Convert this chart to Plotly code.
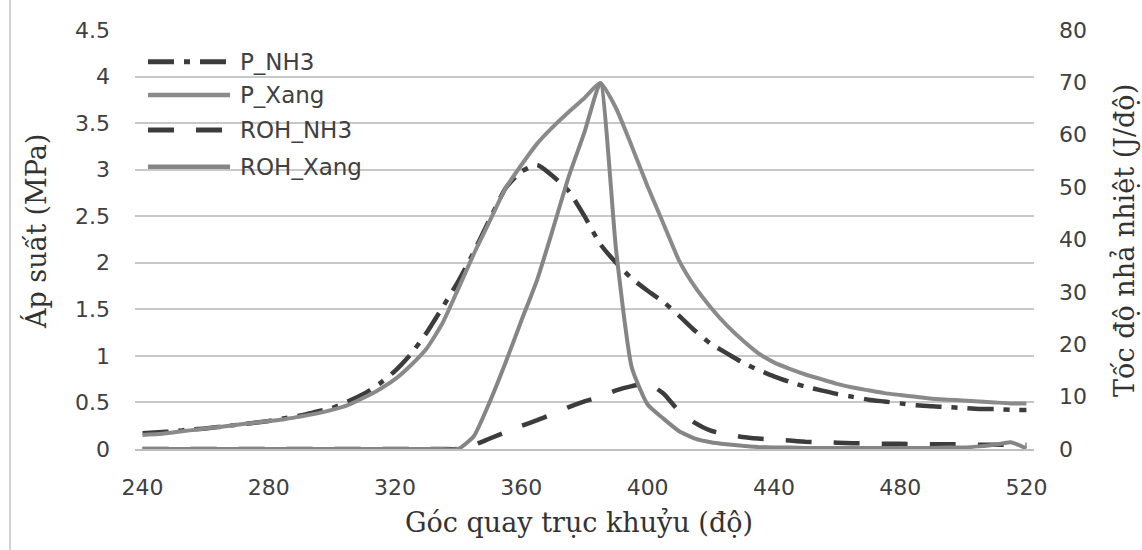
import plotly.graph_objects as go

# ---------------- data ----------------
angle = [240, 245, 250, 255, 260, 265, 270, 275, 280, 285,
         290, 295, 300, 305, 310, 315, 320, 325, 330, 335,
         340, 345, 350, 355, 360, 365, 370, 375, 380, 385,
         390, 395, 400, 405, 410, 415, 420, 425, 430, 435,
         440, 445, 450, 455, 460, 465, 470, 475, 480, 485,
         490, 495, 500, 505, 510, 515, 520]

p_nh3 = [0.17, 0.18, 0.19, 0.21, 0.22, 0.24, 0.26, 0.28, 0.30, 0.33,
         0.36, 0.40, 0.44, 0.51, 0.59, 0.70, 0.84, 1.02, 1.25, 1.52,
         1.80, 2.12, 2.47, 2.80, 2.98, 3.05, 2.93, 2.77, 2.50, 2.20,
         2.00, 1.83, 1.70, 1.58, 1.43, 1.27, 1.13, 1.03, 0.93, 0.85,
         0.78, 0.72, 0.67, 0.63, 0.59, 0.56, 0.53, 0.51, 0.49, 0.47,
         0.46, 0.45, 0.44, 0.43, 0.43, 0.42, 0.42]

p_xang = [0.15, 0.16, 0.18, 0.20, 0.22, 0.24, 0.26, 0.28, 0.30, 0.32,
          0.35, 0.38, 0.42, 0.47, 0.55, 0.64, 0.75, 0.90, 1.08, 1.35,
          1.72, 2.10, 2.45, 2.80, 3.05, 3.28, 3.46, 3.62, 3.77, 3.93,
          3.66, 3.25, 2.82, 2.42, 2.02, 1.74, 1.52, 1.33, 1.17, 1.03,
          0.93, 0.86, 0.80, 0.75, 0.70, 0.66, 0.63, 0.60, 0.58, 0.56,
          0.54, 0.53, 0.52, 0.51, 0.50, 0.49, 0.49]

roh_nh3 = [0, 0, 0, 0, 0, 0, 0, 0, 0, 0,
           0, 0, 0, 0, 0, 0, 0, 0, 0, 0,
           0.0, 0.8, 2.0, 3.2, 4.4, 5.5, 6.7, 8.0, 9.1, 10.0,
           11.2, 12.0, 12.5, 10.6, 7.2, 5.0, 3.5, 2.8, 2.3, 2.0,
           1.8, 1.6, 1.4, 1.3, 1.2, 1.1, 1.1, 1.0, 1.0, 0.9,
           0.9, 0.9, 0.9, 0.8, 0.8, 0.8, 0.8]

roh_xang = [0, 0, 0, 0, 0, 0, 0, 0, 0, 0,
            0, 0, 0, 0, 0, 0, 0, 0, 0, 0,
            0.0, 2.5, 9.0, 16.5, 24.5, 32.3, 42.0, 52.0, 60.5, 69.9,
            38.0, 15.5, 8.5, 5.8, 3.4, 2.0, 1.3, 0.9, 0.6, 0.4,
            0.3, 0.3, 0.2, 0.2, 0.2, 0.2, 0.2, 0.2, 0.2, 0.2,
            0.2, 0.3, 0.3, 0.5, 0.8, 1.3, 0.1]

x_ticks = [240, 280, 320, 360, 400, 440, 480, 520]
series_names = ["P_NH3", "P_Xang", "ROH_NH3", "ROH_Xang"]

# ---------------- styles ----------------
DARK = "#3c3c3c"
GREY = "#8a8a8a"
GREY2 = "#858585"
DASHDOT = "26px,10px,6px,10px"
DASH = "26px,22px"
styles = {
    "P_NH3": dict(color=DARK, width=4.5, dash=DASHDOT),
    "P_Xang": dict(color=GREY, width=4, dash="solid"),
    "ROH_NH3": dict(color=DARK, width=4.5, dash=DASH),
    "ROH_Xang": dict(color=GREY2, width=4, dash="solid"),
}


def line_style(name):
    d = dict(styles[name])
    d["shape"] = "spline"
    d["smoothing"] = 0.5
    return d


fig = go.Figure()
fig.add_trace(go.Scatter(x=angle, y=p_nh3, mode="lines", name="P_NH3",
                         line=line_style("P_NH3"), yaxis="y", showlegend=False))
fig.add_trace(go.Scatter(x=angle, y=p_xang, mode="lines", name="P_Xang",
                         line=line_style("P_Xang"), yaxis="y", showlegend=False))
fig.add_trace(go.Scatter(x=angle, y=roh_nh3, mode="lines", name="ROH_NH3",
                         line=line_style("ROH_NH3"), yaxis="y2", showlegend=False))
fig.add_trace(go.Scatter(x=angle, y=roh_xang, mode="lines", name="ROH_Xang",
                         line=line_style("ROH_Xang"), yaxis="y2", showlegend=False))

W, H = 1142, 550
ML, MR, MT, MB = 135, 108, 30, 101
PW, PH = W - ML - MR, H - MT - MB


def px_x(p):
    return (p - ML) / PW


def px_y(p):
    return (H - MB - p) / PH


TICKFONT = dict(family="DejaVu Sans", size=22, color="#404040")
TITLEFONT = dict(family="DejaVu Serif", size=27, color="#333333")

shapes = []
annotations = []
# custom legend (top-left inside plot)
leg_rows = [61.7, 95, 130, 166.7]
for name, yy in zip(series_names, leg_rows):
    st = styles[name]
    shapes.append(dict(type="line", xref="paper", yref="paper",
                       x0=px_x(148), x1=px_x(230), y0=px_y(yy), y1=px_y(yy),
                       line=dict(color=st["color"], width=st["width"] + 0.5,
                                 dash=st["dash"])))
    annotations.append(dict(xref="paper", yref="paper", x=px_x(238), y=px_y(yy),
                            xanchor="left", yanchor="middle", showarrow=False,
                            text=name, font=dict(family="DejaVu Sans", size=23,
                                                 color="#404040")))

# axis titles
annotations.append(dict(xref="paper", yref="paper", x=px_x(579), y=px_y(522),
                        xanchor="center", yanchor="middle", showarrow=False,
                        text="Góc quay trục khuỷu (độ)", font=TITLEFONT))
annotations.append(dict(xref="paper", yref="paper", x=px_x(36), y=px_y(232),
                        xanchor="center", yanchor="middle", showarrow=False,
                        textangle=-90, text="Áp suất (MPa)", font=TITLEFONT))
annotations.append(dict(xref="paper", yref="paper", x=px_x(1124), y=px_y(241),
                        xanchor="center", yanchor="middle", showarrow=False,
                        textangle=-90, text="Tốc độ nhả nhiệt (J/độ)", font=TITLEFONT))

# image frame line at left
shapes.append(dict(type="line", xref="paper", yref="paper",
                   x0=px_x(10), x1=px_x(10), y0=px_y(0), y1=px_y(550),
                   line=dict(color="#d2d2d2", width=2)))

fig.update_layout(
    width=W, height=H,
    margin=dict(l=ML, r=MR, t=MT, b=MB),
    paper_bgcolor="white", plot_bgcolor="white",
    xaxis=dict(range=[237.6, 522.4], tickvals=x_ticks, showgrid=False,
               zeroline=False, showline=True, linecolor="#bfbfbf", linewidth=1.5,
               ticks="", tickfont=TICKFONT, ticklabelstandoff=18),
    yaxis=dict(range=[0, 4.5], dtick=0.5, tick0=0, showgrid=True,
               gridcolor="#c8c8c8", gridwidth=1.5, zeroline=False,
               showline=False, ticks="", tickfont=TICKFONT, ticklabelstandoff=24),
    yaxis2=dict(range=[0, 80], dtick=10, tick0=0, overlaying="y", side="right",
                showgrid=False, zeroline=False, showline=False, ticks="",
                tickfont=TICKFONT, ticklabelstandoff=24),
    shapes=shapes,
    annotations=annotations,
    showlegend=False,
)

fig.write_html("out.html")
